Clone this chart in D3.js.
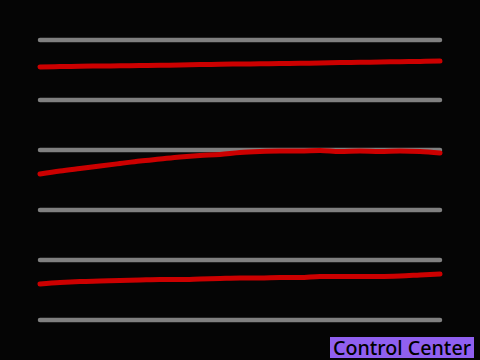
<!DOCTYPE html>
<html>
<head>
<meta charset="UTF-8">
<script src="https://d3js.org/d3.v7.min.js"></script>
<style>
  body { margin: 0; background: #050505; }
  svg { display: block; }
</style>
</head>
<body>
<svg id="chart" width="480" height="360"></svg>
<script>
  // sample index along x (0..20)
  const steps = d3.range(21);

  const panel1 = [55, 55.7, 56.2, 56.7, 57, 57.3, 57.8, 58.3, 59, 59.5, 60, 60.3, 60.7, 61.2, 61.7, 62.3, 62.8, 63.3, 63.8, 64.3, 65];
  const panel2 = [60, 65, 69.2, 73.3, 77.5, 81.7, 85, 88.3, 90.8, 92.5, 95.8, 97.5, 98.3, 98.3, 99.2, 97.5, 98.3, 97.5, 98.3, 97.5, 95];
  const panel3 = [60, 62.5, 64.2, 65, 65.8, 66.7, 67.5, 67.5, 68.3, 69.2, 70, 70, 70.8, 70.8, 72.5, 72.5, 72.5, 72.5, 73.3, 75, 76.7];

  const series = [panel1, panel2, panel3];
  const panelTops = [40, 150, 260];
  const label = "Control Center";

  const svg = d3.select("#chart");

  const x = d3.scaleLinear().domain([0, 20]).range([40, 440]);

  series.forEach((vals, i) => {
    const top = panelTops[i];
    const y = d3.scaleLinear().domain([0, 100]).range([top + 60, top]);
    const g = svg.append("g");

    // gray guide lines at top and bottom of each band
    g.selectAll("line")
      .data([0, 100])
      .enter()
      .append("line")
      .attr("x1", x(0))
      .attr("x2", x(20))
      .attr("y1", d => y(d))
      .attr("y2", d => y(d))
      .attr("stroke", "#808080")
      .attr("stroke-width", 4.5)
      .attr("stroke-linecap", "round");

    const line = d3.line()
      .x((d, j) => x(steps[j]))
      .y(d => y(d))
      .curve(d3.curveMonotoneX);

    g.append("path")
      .datum(vals)
      .attr("d", line)
      .attr("fill", "none")
      .attr("stroke", "#cc0000")
      .attr("stroke-width", 5)
      .attr("stroke-linecap", "round")
      .attr("stroke-linejoin", "round");
  });

  // label box bottom right
  const lbl = svg.append("g");
  lbl.append("rect")
    .attr("x", 330)
    .attr("y", 337)
    .attr("width", 144)
    .attr("height", 21)
    .attr("fill", "#9060f0");
  lbl.append("text")
    .attr("x", 333)
    .attr("y", 355)
    .attr("font-family", "'Noto Sans', sans-serif")
    .attr("font-size", 20)
    .attr("font-weight", 500)
    .attr("textLength", 138)
    .attr("lengthAdjust", "spacingAndGlyphs")
    .attr("fill", "#000")
    .text(label);
</script>
</body>
</html>
